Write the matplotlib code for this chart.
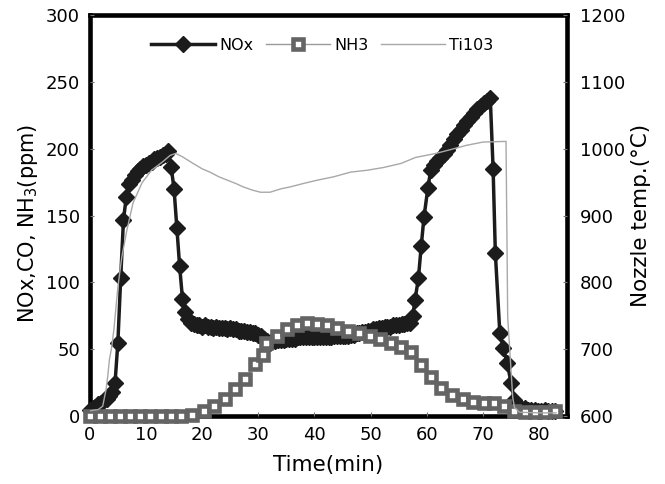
import matplotlib
matplotlib.use("Agg")
import matplotlib.pyplot as plt

plt.rcParams['font.family'] = ['DejaVu Sans']
plt.rcParams['mathtext.default'] = 'regular'

# NOx (ppm) - time in min
nox_t = [0, 0.5, 1, 1.5, 2, 2.5, 3, 3.5, 4, 4.5, 5, 5.5, 6, 6.5, 7, 7.5, 8, 8.5, 9, 9.5,
         10, 10.5, 11, 11.5, 12, 12.5, 13, 13.5, 14, 14.5, 15, 15.5, 16, 16.5, 17, 17.5,
         18, 18.5, 19, 19.5, 20, 20.5, 21, 21.5, 22, 22.5, 23, 23.5, 24, 24.5, 25, 25.5,
         26, 26.5, 27, 27.5, 28, 28.5, 29, 29.5, 30, 30.5, 31, 31.5, 32, 32.5, 33, 33.5,
         34, 34.5, 35, 35.5, 36, 36.5, 37, 37.5, 38, 38.5, 39, 39.5, 40, 40.5, 41, 41.5,
         42, 42.5, 43, 43.5, 44, 44.5, 45, 45.5, 46, 46.5, 47, 47.5, 48, 48.5, 49, 49.5,
         50, 50.5, 51, 51.5, 52, 52.5, 53, 53.5, 54, 54.5, 55, 55.5, 56, 56.5, 57, 57.5,
         57.9, 58.5, 59.0, 59.5, 60.2, 60.7, 61.2, 61.8, 62.4, 63.0, 63.6, 64.2, 64.8,
         65.4, 66.0, 66.6, 67.2, 67.8, 68.4, 69.0, 69.6, 70.2, 70.8, 71.3, 71.8, 72.2,
         73.0, 73.6, 74.3, 75.0, 75.6, 76.2, 76.8, 77.4, 78.0, 78.6, 79.2, 79.8, 80.4,
         81.0, 81.6, 82.2, 82.8]
nox_v = [5, 6, 7, 9, 10, 12, 13, 15, 18, 25, 55, 103, 147, 164, 174, 177, 180, 183, 185, 187,
         188, 189, 190, 192, 193, 194, 195, 196, 198, 186, 170, 141, 112, 88, 78, 73,
         70, 69, 68, 68, 67, 68, 67, 67, 66, 67, 66, 66, 66, 65, 66, 65,
         65, 64, 64, 64, 63, 63, 62, 62, 61, 60, 58, 56, 55, 56, 56, 57,
         57, 57, 58, 58, 58, 58, 59, 59, 59, 59, 59, 59, 59, 59, 59, 59,
         59, 59, 59, 60, 60, 60, 60, 60, 60, 61, 61, 62, 62, 63, 63, 64,
         64, 65, 65, 66, 66, 67, 67, 67, 68, 68, 68, 69, 69, 70, 70, 75,
         87, 103, 127, 149, 171, 184, 188, 191, 193, 196, 199, 203, 207,
         211, 214, 218, 221, 224, 227, 230, 232, 234, 236, 238, 185, 122,
         62, 51, 40, 25, 12, 7, 6, 6, 5, 5, 5, 4, 4,
         5, 4, 4, 4]

# NH3 (ppm)
nh3_t = [0, 1.8, 3.6, 5.4, 7.2, 9.0, 10.8, 12.6, 14.4, 16.2, 18.2, 20.3, 22.2, 24.1,
         25.9, 27.7, 29.5, 30.9, 31.4, 33.3, 35.1, 36.9, 38.7, 40.5, 42.3, 44.1, 46.0,
         47.9, 49.8, 51.7, 53.6, 55.4, 57.1, 58.9, 60.7, 62.6, 64.5, 66.4, 68.2, 70.1,
         72.0, 73.8, 75.6, 77.4, 79.2, 81.0, 82.8]
nh3_v = [0, 0, 0, 0, 0, 0, 0, 0, 0, 0, 1, 4, 8, 13,
         20, 28, 39, 46, 55, 60, 65, 68, 70, 69, 68, 66, 64,
         62, 60, 58, 55, 52, 48, 38, 29, 21, 16, 13, 11, 10,
         10, 8, 4, 3, 3, 3, 4]

# Ti103 nozzle temperature (C)
ti_t = [0, 1.5, 2.3, 2.9, 3.2, 3.5, 3.9, 4.3, 5.0, 5.7, 6.6, 7.7, 9.3, 11.0, 12.9,
        14.3, 15.3, 16.5, 18.4, 20.0, 21.4, 23.0, 24.5, 26.0, 27.3, 29.0, 30.4, 32.1,
        34.0, 35.7, 38.0, 40.5, 43.4, 46.4, 49.5, 52.3, 55.4, 58.0, 61.6, 63.9, 67.0,
        70.0, 74.1, 74.4, 75.3, 75.6, 76.5, 80.0, 83.0]
ti_v = [608, 610, 615, 640, 660, 685, 703, 730, 793, 838, 878, 919, 949, 968, 980,
        990, 993, 988, 978, 970, 965, 958, 953, 948, 943, 938, 935, 935,
        940, 943, 948, 953, 958, 965, 968, 972, 978, 987, 993, 998, 1005,
        1010, 1011, 748, 628, 613, 606, 605, 605]

fig = plt.figure(figsize=(6.65, 4.84), dpi=100)
ax = fig.add_axes([0.135, 0.140, 0.718, 0.829])
ax2 = ax.twinx()

l1, = ax.plot(nox_t, nox_v, color='#1c1c1c', lw=2.5, marker='D', ms=8.5,
              mfc='#1c1c1c', mec='#1c1c1c', mew=1, zorder=2, label='NOx',
              clip_on=False)
l2, = ax.plot(nh3_t, nh3_v, color='#9a9a9a', lw=1, marker='s', ms=6.5,
              mfc='white', mec='#646464', mew=3.3, zorder=3, label='NH3',
              clip_on=False)
l3, = ax2.plot(ti_t, ti_v, color='#a8a8a8', lw=1, zorder=4, label='Ti103')

ax.set_xlim(0, 85)
ax.set_ylim(0, 300)
ax2.set_ylim(600, 1200)
ax.set_xticks(range(0, 81, 10))
ax.set_yticks(range(0, 301, 50))
ax2.set_yticks(range(600, 1201, 100))

# thick frame drawn once (on the primary axes), markers may sit over it
for s in ax.spines.values():
    s.set_linewidth(3.3)
    s.set_color('black')
    s.set_zorder(1)
for s in ax2.spines.values():
    s.set_visible(False)

ax.tick_params(axis='both', direction='in', length=3, width=0.8, color='#777777',
               labelsize=13, pad=7)
ax2.tick_params(axis='y', direction='in', length=3, width=0.8, color='#777777',
                labelsize=13, pad=9)

ax.set_xlabel('Time(min)', fontsize=15.5)
ax.set_ylabel('NOx,CO, NH$_3$(ppm)', fontsize=15)
ax2.set_ylabel('Nozzle temp.(\u00b0C)', fontsize=15.5)
ax.xaxis.set_label_coords(0.5, -0.097)
ax.yaxis.set_label_coords(-0.105, 0.48)
ax2.yaxis.set_label_coords(1.134, 0.5)

ax.legend(handles=[l1, l2, l3], loc='center', bbox_to_anchor=(0.487, 0.925), ncol=3,
          frameon=False, fontsize=11.5, handlelength=4.0, handletextpad=0.3,
          columnspacing=0.75)

fig.savefig('out.png', dpi=100)
